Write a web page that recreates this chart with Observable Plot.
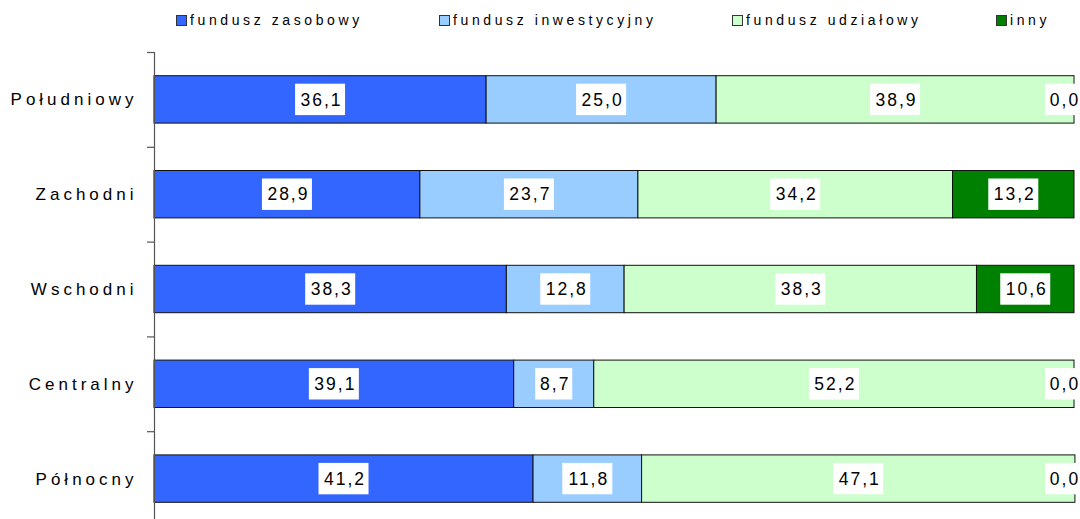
<!DOCTYPE html>
<html>
<head>
<meta charset="utf-8">
<script src="https://cdn.jsdelivr.net/npm/d3@7"></script>
<script src="https://cdn.jsdelivr.net/npm/@observablehq/plot@0.6"></script>
<style>
  html, body { margin: 0; padding: 0; background: #fff; }
  body { font-family: "Liberation Sans", Arial, sans-serif; width: 1080px; height: 519px; overflow: hidden; }
  #legend { position: relative; height: 40px; width: 1080px; }
  .item { position: absolute; top: 12px; display: flex; align-items: center; font-size: 14px; letter-spacing: 3.6px; color: #000; line-height: 17px; }
  .sw { width: 9px; height: 9px; border: 1px solid #333; margin-right: 3px; }
  #chart svg { display: block; }
</style>
</head>
<body>
<div id="legend"></div>
<div id="chart"></div>
<script>
const regions = ["Południowy", "Zachodni", "Wschodni", "Centralny", "Północny"];
const series = ["fundusz zasobowy", "fundusz inwestycyjny", "fundusz udziałowy", "inny"];
const zasobowy = [36.1, 28.9, 38.3, 39.1, 41.2];
const inwestycyjny = [25.0, 23.7, 12.8, 8.7, 11.8];
const udzialowy = [38.9, 34.2, 38.3, 52.2, 47.1];
const inny = [0.0, 13.2, 10.6, 0.0, 0.0];
const colors = ["#3366FF", "#99CCFF", "#CCFFCC", "#008000"];

// layout
const xRange = [154, 1074];
const yRange = [12, 486];
const pxPerUnit = (xRange[1] - xRange[0]) / 100;
const step = (yRange[1] - yRange[0]) / regions.length;

const valuesBySeries = [zasobowy, inwestycyjny, udzialowy, inny];
const rows = [];
regions.forEach((r, i) => {
  let acc = 0;
  series.forEach((s, j) => {
    const v = valuesBySeries[j][i];
    const x1 = acc, x2 = acc + v;
    acc = x2;
    const label = v.toFixed(1).replace(".", ",");
    let mid = (x1 + x2) / 2;
    mid = Math.min(mid, 100 - 10.5 / pxPerUnit);
    const halfBox = (label.length === 3 ? 18.5 : 25) / pxPerUnit;
    rows.push({region: r, series: s, value: v, x1, x2, mid, label, b1: mid - halfBox, b2: mid + halfBox});
  });
});

// legend
const legend = document.getElementById("legend");
const legendLeft = [176, 439, 732, 996];
series.forEach((s, j) => {
  const it = document.createElement("div");
  it.className = "item";
  it.style.left = legendLeft[j] + "px";
  const sw = document.createElement("div");
  sw.className = "sw";
  sw.style.background = colors[j];
  const t = document.createElement("span");
  t.textContent = s;
  it.appendChild(sw); it.appendChild(t);
  legend.appendChild(it);
});

const chart = Plot.plot({
  width: 1080,
  height: 479,
  marginTop: 12, marginBottom: 0, marginLeft: 154, marginRight: 6,
  style: {fontFamily: "Liberation Sans, Arial, sans-serif", background: "#fff"},
  x: {domain: [0, 100], range: xRange, axis: null},
  y: {domain: regions, range: yRange, paddingInner: 0.5, paddingOuter: 0.25, round: false, axis: null, label: null},
  color: {domain: series, range: colors},
  marks: [
    Plot.barX(rows.filter(d => d.value > 0), {x1: "x1", x2: "x2", y: "region", fill: "series", stroke: "#111", strokeWidth: 1}),
    Plot.barX(rows, {x1: "b1", x2: "b2", y: "region", fill: "#fff", insetTop: 8, insetBottom: 8}),
    Plot.text(rows, {x: "mid", y: "region", text: "label", fontSize: 17.5, fill: "#000", dx: 1}),
    Plot.ruleX([0], {stroke: "#555", strokeWidth: 1.2}),
    Plot.axisY({tickSize: 7, tickFormat: () => "", label: null, dy: -step / 2, stroke: "#555", strokeWidth: 1.2}),
    Plot.text(regions, {x: () => 0, y: d => d, text: d => d, textAnchor: "end", dx: -17, fontSize: 17, fill: "#000"})
  ]
});
document.getElementById("chart").appendChild(chart);
const textGroups = chart.querySelectorAll('g[aria-label="text"]');
if (textGroups[0]) textGroups[0].querySelectorAll("text").forEach(t => t.style.letterSpacing = "2px");
if (textGroups[1]) textGroups[1].querySelectorAll("text").forEach(t => t.style.letterSpacing = "4px");
</script>
</body>
</html>
